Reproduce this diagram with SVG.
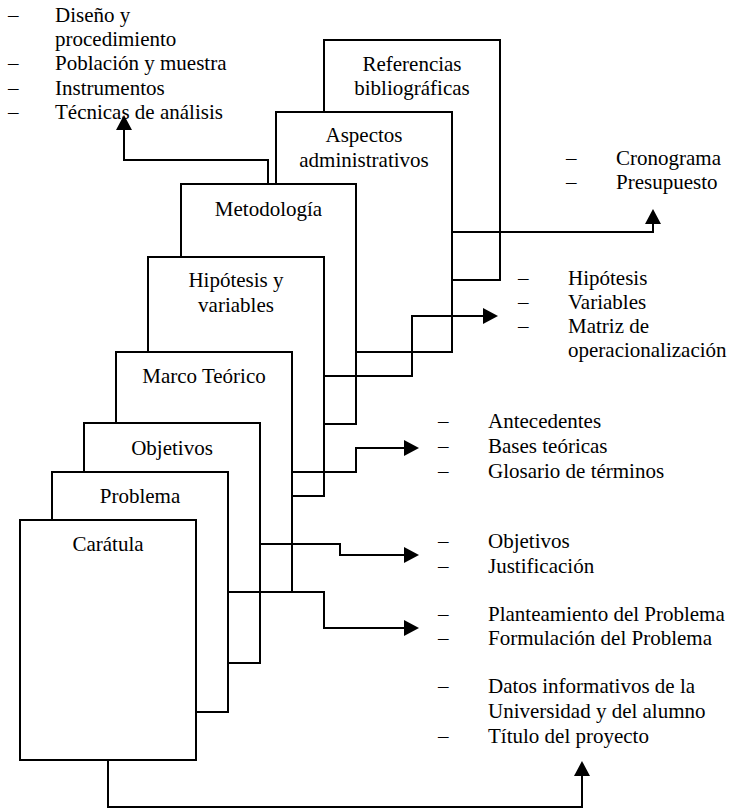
<svg xmlns="http://www.w3.org/2000/svg" width="732" height="810" viewBox="0 0 732 810">
<style>
.box{fill:#fff;stroke:#000;stroke-width:2}
.con{fill:none;stroke:#000;stroke-width:2}
</style>
<defs>
<marker id="arr" markerUnits="userSpaceOnUse" markerWidth="16" markerHeight="16" viewBox="0 0 16 16" refX="1" refY="8" orient="auto" overflow="visible">
<path d="M0,0 L15,8 L0,16 Z" fill="#000"/>
</marker>
</defs>
<rect width="732" height="810" fill="#fff"/>

<g font-family="Liberation Serif, Times New Roman, serif" font-size="21" fill="#000" text-anchor="middle">
<g id="referencias">
<rect class="box" x="324" y="40" width="176" height="240"/>
<text x="412" y="71">Referencias</text>
<text x="412" y="95">bibliográficas</text>
</g>
<g id="aspectos">
<rect class="box" x="276" y="112" width="176" height="240"/>
<text x="364" y="142">Aspectos</text>
<text x="364" y="167">administrativos</text>
</g>
<g id="metodologia">
<rect class="box" x="181" y="184" width="175" height="240"/>
<text x="268.5" y="216">Metodología</text>
</g>
<g id="hipotesis">
<rect class="box" x="148" y="257" width="176" height="239"/>
<text x="236" y="287">Hipótesis y</text>
<text x="236" y="312">variables</text>
</g>
<g id="marco">
<rect class="box" x="116" y="352" width="176" height="240"/>
<text x="204" y="383">Marco Teórico</text>
</g>
<g id="objetivos">
<rect class="box" x="84" y="423" width="176" height="240"/>
<text x="172" y="455">Objetivos</text>
</g>
<g id="problema">
<rect class="box" x="52" y="472" width="176" height="240"/>
<text x="140" y="503">Problema</text>
</g>
<g id="caratula">
<rect class="box" x="20" y="520" width="176" height="240"/>
<text x="108" y="551">Carátula</text>
</g>
</g>

<g id="connectors">
<path class="con" d="M268,184 V160 H124 V129" marker-end="url(#arr)"/>
<path class="con" d="M452,232 H653 V223" marker-end="url(#arr)"/>
<path class="con" d="M324,376 H412 V316 H484" marker-end="url(#arr)"/>
<path class="con" d="M292,472 H356 V448 H405" marker-end="url(#arr)"/>
<path class="con" d="M260,544 H340 V555 H405" marker-end="url(#arr)"/>
<path class="con" d="M228,592 H324 V628 H405" marker-end="url(#arr)"/>
<path class="con" d="M108,760 V807 H582 V775" marker-end="url(#arr)"/>
</g>

<g font-family="Liberation Serif, Times New Roman, serif" font-size="21" fill="#000">
<g id="list-metodologia">
<text x="8" y="22">–</text><text x="55" y="22">Diseño y</text>
<text x="55" y="46">procedimiento</text>
<text x="8" y="70">–</text><text x="55" y="70">Población y muestra</text>
<text x="8" y="95">–</text><text x="55" y="95">Instrumentos</text>
<text x="8" y="119">–</text><text x="55" y="119">Técnicas de análisis</text>
</g>
<g id="list-aspectos">
<text x="566" y="165">–</text><text x="616" y="165">Cronograma</text>
<text x="566" y="189">–</text><text x="616" y="189">Presupuesto</text>
</g>
<g id="list-hipotesis">
<text x="518" y="285">–</text><text x="568" y="285">Hipótesis</text>
<text x="518" y="309">–</text><text x="568" y="309">Variables</text>
<text x="518" y="333">–</text><text x="568" y="333">Matriz de</text>
<text x="568" y="357">operacionalización</text>
</g>
<g id="list-marco">
<text x="438" y="428">–</text><text x="488" y="428">Antecedentes</text>
<text x="438" y="453">–</text><text x="488" y="453">Bases teóricas</text>
<text x="438" y="478">–</text><text x="488" y="478">Glosario de términos</text>
</g>
<g id="list-objetivos">
<text x="438" y="548">–</text><text x="488" y="548">Objetivos</text>
<text x="438" y="573">–</text><text x="488" y="573">Justificación</text>
</g>
<g id="list-problema">
<text x="438" y="621">–</text><text x="488" y="621">Planteamiento del Problema</text>
<text x="438" y="645">–</text><text x="488" y="645">Formulación del Problema</text>
</g>
<g id="list-caratula">
<text x="438" y="693">–</text><text x="488" y="693">Datos informativos de la</text>
<text x="488" y="718">Universidad y del alumno</text>
<text x="438" y="743">–</text><text x="488" y="743">Título del proyecto</text>
</g>
</g>
</svg>
